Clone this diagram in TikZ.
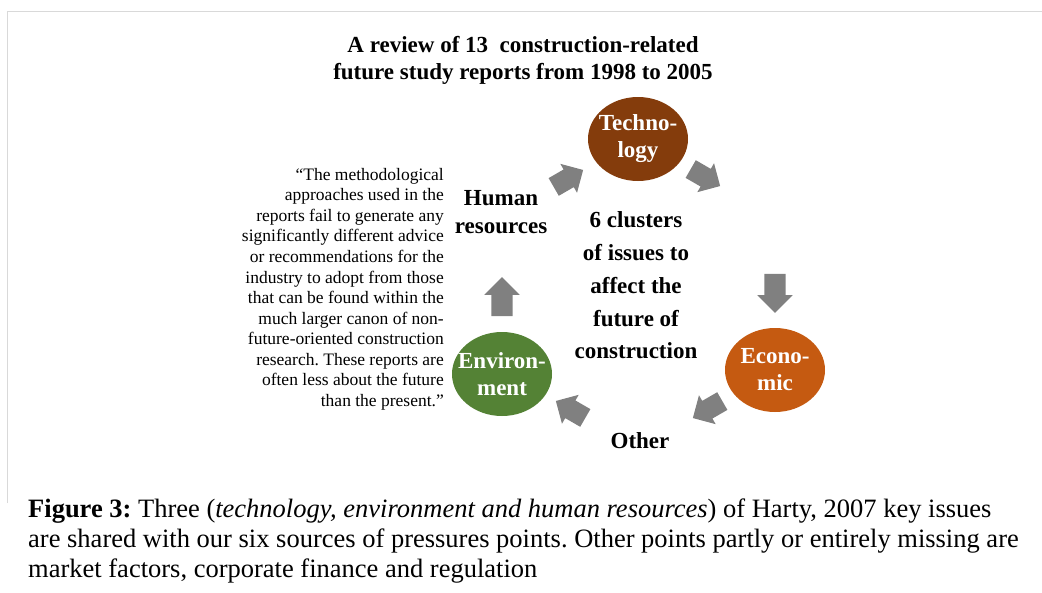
\documentclass[tikz,border=0pt]{standalone}
\usepackage{fontspec}
\setmainfont{Liberation Serif}
\usepackage{tikz}
\usetikzlibrary{shapes.geometric,shapes.arrows}
\definecolor{techbrown}{HTML}{843C0C}
\definecolor{econorange}{HTML}{C55A11}
\definecolor{envgreen}{HTML}{548235}
\definecolor{cyclegray}{HTML}{808080}
\definecolor{framegray}{HTML}{D9D9D9}
\frenchspacing

\begin{document}
\begin{tikzpicture}[x=1pt,y=-1pt,
    cluster/.style={ellipse,minimum width=100pt,minimum height=84pt,inner sep=0pt},
    clustertext/.style={text=white,font=\fontsize{23}{27}\selectfont\bfseries,
                        align=center,inner sep=0pt},
    boldlabel/.style={font=\fontsize{23}{27.5}\selectfont\bfseries,align=center,inner sep=0pt},
    cyclearrow/.style={single arrow,fill=cyclegray,inner xsep=0pt,inner ysep=10.5pt,
                       minimum height=39pt,single arrow head extend=7pt},
    diagarrow/.style={cyclearrow,inner ysep=10pt,minimum height=34pt,
                      single arrow head extend=6.5pt}]
    \useasboundingbox (0,0) rectangle (1042,592);
    \draw[framegray,line width=1pt] (7,503) -- (7,11) -- (1042,11);

    % title and the cycle
    \node[boldlabel,anchor=north] (title) at (523,36) {A review of 13~ construction-related\\
      future study reports from 1998 to 2005};
    \node[cluster,fill=techbrown] (tech) at (638,139) {};
    \node[clustertext] (techtext) at (tech) {Techno-\\logy};
    \node[cluster,fill=econorange] (econ) at (775,370) {};
    \node[clustertext] (econtext) at (econ) {Econo-\\mic};
    \node[cluster,fill=envgreen] (env) at (502,374) {};
    \node[clustertext] (envtext) at (env) {Environ-\\ment};
    \node[boldlabel,anchor=north] (human) at (501,190.5) {Human\\resources};
    \node[boldlabel,anchor=base] (other) at (640,448) {Other};
    \node[boldlabel,anchor=north,font=\fontsize{23}{32.8}\selectfont\bfseries] (clusters)
      at (636,211.5) {6 clusters\\of issues to\\affect the\\future of\\construction};

    \node[diagarrow,rotate=30] (hr2tech) at (564,181) {};
    \node[diagarrow,rotate=-30] (tech2right) at (701,175) {};
    \node[cyclearrow,rotate=-90] (right2econ) at (775,288) {};
    \node[diagarrow,rotate=-150] (econ2other) at (712,407) {};
    \node[diagarrow,rotate=150] (other2env) at (575,412) {};
    \node[cyclearrow,rotate=90] (env2hr) at (502,302) {};

    % quote and caption
    \node[anchor=north east,align=right,inner sep=0pt,font=\fontsize{17.5}{20.55}\selectfont]
      (quote) at (444,168) {“The methodological\\approaches used in the\\
      reports fail to generate any\\significantly different advice\\
      or recommendations for the\\industry to adopt from those\\
      that can be found within the\\much larger canon of non-\\
      future-oriented construction\\research. These reports are\\
      often less about the future\\than the present.”};
    \node[anchor=north west,align=left,inner sep=0pt,font=\fontsize{26.5}{30}\selectfont]
      (caption) at (28,499) {\textbf{Figure 3:} Three (\textit{technology, environment and
      human resources}) of Harty, 2007 key issues\\are shared with our six sources of
      pressures points. Other points partly or entirely missing are\\market factors,
      corporate finance and regulation};
  \end{tikzpicture}
\end{document}
